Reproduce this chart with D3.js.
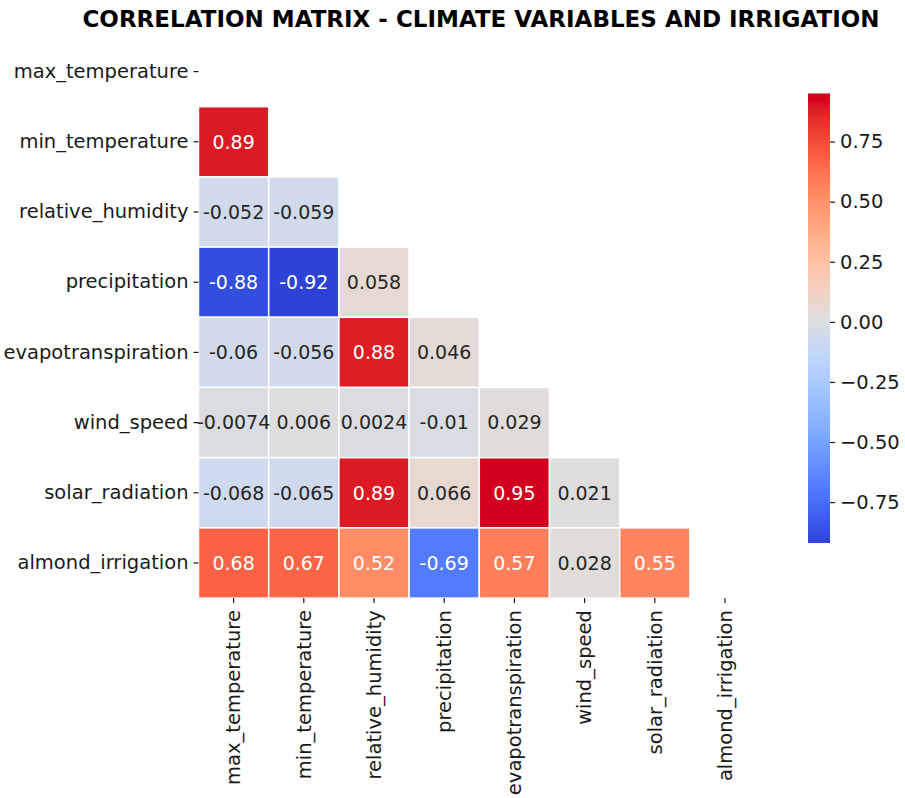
<!DOCTYPE html>
<html>
<head>
<meta charset="utf-8">
<script src="https://cdn.jsdelivr.net/npm/d3@7"></script>
<style>
  html, body { margin: 0; padding: 0; background: #fff; }
  svg { display: block; }
  text { font-family: "DejaVu Sans", sans-serif; }
</style>
</head>
<body>
<svg id="chart" width="905" height="798"></svg>
<script>
// ---------- data ----------
const variables = ["max_temperature", "min_temperature", "relative_humidity", "precipitation",
                   "evapotranspiration", "wind_speed", "solar_radiation", "almond_irrigation"];
const rowMinTemp   = [0.89];
const rowRelHum    = [-0.052, -0.059];
const rowPrecip    = [-0.88, -0.92, 0.058];
const rowEvapo     = [-0.06, -0.056, 0.88, 0.046];
const rowWind      = [-0.0074, 0.006, 0.0024, -0.01, 0.029];
const rowSolar     = [-0.068, -0.065, 0.89, 0.066, 0.95, 0.021];
const rowAlmond    = [0.68, 0.67, 0.52, -0.69, 0.57, 0.028, 0.55];
const lowerRows = [[], rowMinTemp, rowRelHum, rowPrecip, rowEvapo, rowWind, rowSolar, rowAlmond];
const colorbarTicks = [-0.75, -0.5, -0.25, 0, 0.25, 0.5, 0.75];
const titleText = "CORRELATION MATRIX - CLIMATE VARIABLES AND IRRIGATION";

// ---------- colormap (coolwarm, boosted to match reference) ----------
const coolwarm = [
  [59,76,192],[68,90,204],[77,104,215],[87,117,225],[98,130,234],[108,142,241],[119,154,247],
  [130,165,251],[141,176,254],[152,185,255],[163,194,255],[174,201,253],[184,208,249],[194,213,244],
  [204,217,238],[213,219,230],[221,221,221],[229,216,209],[236,211,197],[241,204,184],[245,196,172],
  [247,187,159],[247,177,147],[247,166,134],[244,154,123],[241,141,111],[236,127,99],[229,112,88],
  [222,96,77],[213,80,66],[203,62,56],[192,40,47],[180,4,38]];
function baseColor(t) {
  t = Math.max(0, Math.min(1, t));
  const p = t * (coolwarm.length - 1);
  const i = Math.min(coolwarm.length - 2, Math.floor(p));
  const f = p - i;
  return coolwarm[i].map((v, k) => v + (coolwarm[i + 1][k] - v) * f);
}
function boosted(t) {
  const c = baseColor(t);
  const m = (c[0] + c[1] + c[2]) / 3;
  const b = c.map(v => Math.max(0, Math.min(255, Math.round(m + (v - m) * 1.27))));
  return `rgb(${b[0]},${b[1]},${b[2]})`;
}
function luminance(c) {
  const l = c.map(v => { v /= 255; return v <= 0.03928 ? v / 12.92 : Math.pow((v + 0.055) / 1.055, 2.4); });
  return 0.2126 * l[0] + 0.7152 * l[1] + 0.0722 * l[2];
}

// ---------- build cells ----------
const cells = [];
lowerRows.forEach((row, r) => row.forEach((v, c) => cells.push({ row: variables[r], col: variables[c], value: v })));
const allVals = cells.map(d => d.value);
const vmin = d3.min(allVals), vmax = d3.max(allVals);
const norm = d3.scaleLinear().domain([vmin, vmax]).range([0, 1]);
const color = v => boosted(norm(v));

// ---------- layout ----------
const svg = d3.select("#chart");
const cell = 70.2;
const x0 = 198.5, y0 = 36.5;
const x = d3.scaleBand().domain(variables).range([x0, x0 + cell * variables.length]);
const y = d3.scaleBand().domain(variables).range([y0, y0 + cell * variables.length]);
const labelSize = 19.5;

// title
svg.append("text")
  .attr("x", 481).attr("y", 27)
  .attr("text-anchor", "middle")
  .attr("font-size", 23)
  .attr("font-weight", "bold")
  .attr("fill", "#000")
  .text(titleText);

// cells
svg.append("g").selectAll("rect").data(cells).join("rect")
  .attr("x", d => x(d.col)).attr("y", d => y(d.row))
  .attr("width", x.bandwidth()).attr("height", y.bandwidth())
  .attr("fill", d => color(d.value))
  .attr("stroke", "#fff").attr("stroke-width", 1.5);

// annotations
svg.append("g").selectAll("text").data(cells).join("text")
  .attr("x", d => x(d.col) + x.bandwidth() / 2)
  .attr("y", d => y(d.row) + y.bandwidth() / 2)
  .attr("dy", "0.36em")
  .attr("text-anchor", "middle")
  .attr("font-size", 19)
  .attr("fill", d => luminance(baseColor(norm(d.value))) < 0.408 ? "#ffffff" : "#262626")
  .text(d => d3.format(".2")(d.value).replace("−", "-"));

// y axis
const yAxis = svg.append("g").attr("transform", `translate(${x0},0)`)
  .call(d3.axisLeft(y).tickSize(5).tickPadding(5));
yAxis.select(".domain").remove();
yAxis.selectAll("text").attr("font-size", labelSize).attr("fill", "#1a1a1a").style("font-family", "DejaVu Sans");
yAxis.selectAll("line").attr("stroke", "#1a1a1a").attr("stroke-width", 1.2);

// x axis
const xBottom = y0 + cell * variables.length;
const xAxis = svg.append("g").attr("transform", `translate(0,${xBottom})`)
  .call(d3.axisBottom(x).tickSize(5).tickPadding(5));
xAxis.select(".domain").remove();
xAxis.selectAll("text")
  .attr("font-size", labelSize).attr("fill", "#1a1a1a").style("font-family", "DejaVu Sans")
  .attr("text-anchor", "end")
  .attr("dy", "0.35em")
  .attr("transform", "rotate(-90)")
  .attr("x", -12).attr("y", 0);
xAxis.selectAll("line").attr("stroke", "#1a1a1a").attr("stroke-width", 1.2);

// colorbar
const cbX = 808, cbW = 22, cbTop = 93.5, cbBottom = 543;
const cbScale = d3.scaleLinear().domain([vmin, vmax]).range([cbBottom, cbTop]);
const defs = svg.append("defs");
const grad = defs.append("linearGradient").attr("id", "cbgrad")
  .attr("x1", 0).attr("y1", 1).attr("x2", 0).attr("y2", 0);
d3.range(0, 1.0001, 1 / 64).forEach(t => {
  grad.append("stop").attr("offset", t).attr("stop-color", boosted(t));
});
svg.append("rect").attr("x", cbX).attr("y", cbTop).attr("width", cbW).attr("height", cbBottom - cbTop)
  .attr("fill", "url(#cbgrad)");
const cbAxis = svg.append("g").attr("transform", `translate(${cbX + cbW},0)`)
  .call(d3.axisRight(cbScale).tickValues(colorbarTicks).tickSize(5).tickPadding(5)
    .tickFormat(v => d3.format(".2f")(v).replace("-", "\u2212")));
cbAxis.select(".domain").remove();
cbAxis.selectAll("text").attr("font-size", labelSize).attr("fill", "#1a1a1a").style("font-family", "DejaVu Sans");
cbAxis.selectAll("line").attr("stroke", "#1a1a1a").attr("stroke-width", 1.2);
</script>
</body>
</html>
